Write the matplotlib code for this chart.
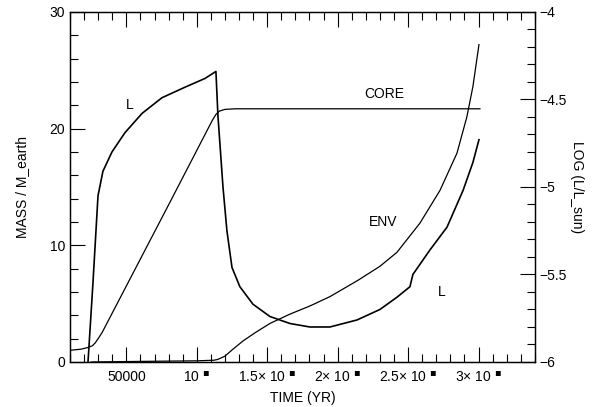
import numpy as np
import matplotlib
matplotlib.use("Agg")
import matplotlib.pyplot as plt
from matplotlib.ticker import MultipleLocator, FixedLocator

plt.rcParams['font.family'] = ['Liberation Sans', 'DejaVu Sans']
plt.rcParams['font.size'] = 10

# core mass (M_earth) vs time (yr)
core_t = [10000, 18000, 23000, 26000, 28000, 30000, 32700, 81000, 111000, 113500, 116000,
          120000, 127000, 301000]
core_m = [1.0, 1.1, 1.25, 1.4, 1.65, 2.0, 2.5, 13.7, 20.7, 21.2, 21.5,
          21.65, 21.7, 21.7]

# envelope mass (M_earth) vs time
env_t = [25000, 60000, 100000, 112000, 114300, 116500, 120000, 125700, 132800, 141300,
         151900, 166100, 180300, 194500, 214400, 230000, 242100, 258400, 272600, 284700,
         291700, 296000, 300300]
env_m = [0.0, 0.05, 0.1, 0.15, 0.2, 0.3, 0.5, 1.1, 1.8, 2.5,
         3.3, 4.1, 4.8, 5.6, 7.0, 8.2, 9.4, 11.9, 14.7, 17.9,
         21.0, 23.6, 27.2]

# log luminosity vs time
lum_t = [22800, 26300, 29900, 33400, 39800, 49000, 61100, 75300, 91600, 105800, 113600,
         115000, 118600, 121400, 125000, 130600, 139900, 151900, 166100, 180300, 194500,
         213700, 230000, 242100, 251300, 253400, 265500, 277600, 289000, 296000, 300300]
lum_l = [-6.0, -5.55, -5.05, -4.91, -4.80, -4.69, -4.58, -4.49, -4.43, -4.38, -4.34,
         -4.59, -5.0, -5.25, -5.46, -5.57, -5.67, -5.74, -5.78, -5.80, -5.80,
         -5.76, -5.70, -5.63, -5.57, -5.50, -5.36, -5.23, -5.02, -4.86, -4.73]

xticks = [50000, 100000, 150000, 200000, 250000, 300000]
xlabels = ["50000", "10 $^{\u25aa}$", "1.5\u00d7 10 $^{\u25aa}$", "2\u00d7 10 $^{\u25aa}$",
           "2.5\u00d7 10 $^{\u25aa}$", "3\u00d7 10 $^{\u25aa}$"]

fig = plt.figure(figsize=(5.93, 4.07), dpi=100)
ax = fig.add_axes([0.118, 0.1106, 0.784, 0.86])
ax2 = ax.twinx()

ax.plot(core_t, core_m, color='black', lw=0.9)
ax.plot(env_t, env_m, color='black', lw=0.9)
ax2.plot(lum_t, lum_l, color='black', lw=1.2)

ax.set_xlim(10000, 340000)
ax.set_ylim(0, 30)
ax2.set_ylim(-6, -4)

ax.xaxis.set_major_locator(FixedLocator(xticks))
ax.set_xticklabels(xlabels)
ax.xaxis.set_minor_locator(MultipleLocator(10000))
ax.yaxis.set_major_locator(MultipleLocator(10))
ax.yaxis.set_minor_locator(MultipleLocator(2))
ax2.yaxis.set_major_locator(MultipleLocator(0.5))
ax2.yaxis.set_minor_locator(MultipleLocator(0.1))
ax2.yaxis.set_major_formatter(plt.FuncFormatter(lambda v, p: ('%g' % v).replace('-', '\u2212')))

for a in (ax, ax2):
    a.tick_params(which='major', direction='in', length=11, width=0.8, labelsize=10)
    a.tick_params(which='minor', direction='in', length=6, width=0.8)
    for s in a.spines.values():
        s.set_linewidth(0.9)
ax.tick_params(which='both', top=True, right=False)
ax.tick_params(axis='x', which='major', pad=6)

ax.set_xlabel('TIME (YR)', fontsize=10, labelpad=4)
ax.set_ylabel('MASS / M_earth', fontsize=10, va='center')
ax.yaxis.set_label_coords(-0.103, 0.5)
ax2.set_ylabel('LOG (L/L_sun)', fontsize=10, rotation=270, va='center')
ax2.yaxis.set_label_coords(1.09, 0.5)

ax.text(52600, 22.0, 'L', ha='center', va='center', fontsize=10)
ax.text(232800, 23.0, 'CORE', ha='center', va='center', fontsize=10)
ax.text(232100, 12.0, 'ENV', ha='center', va='center', fontsize=10)
ax.text(274000, 6.0, 'L', ha='center', va='center', fontsize=10)

fig.savefig('out.png', dpi=100)
